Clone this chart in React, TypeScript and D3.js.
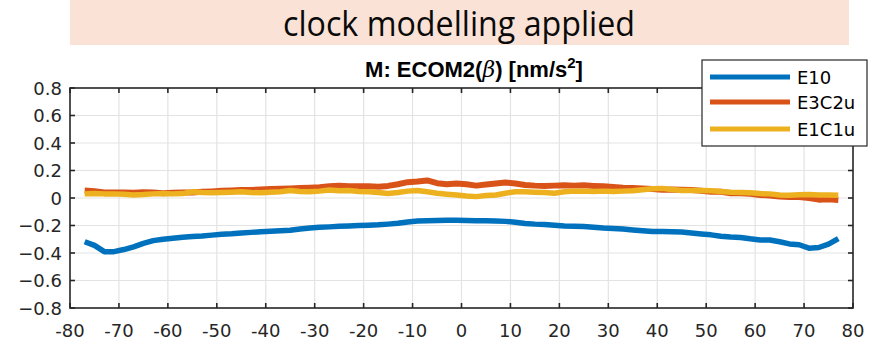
import React, { useEffect, useRef } from "react";
import * as d3 from "d3";

const lat = [-77,-75,-73,-71,-69,-67,-65,-63,-61,-59,-57,-55,-53,-51,-49,-47,-45,-43,-41,-39,-37,-35,-33,-31,-29,-27,-25,-23,-21,-19,-17,-15,-13,-11,-9,-7,-5,-3,-1,1,3,5,7,9,11,13,15,17,19,21,23,25,27,29,31,33,35,37,39,41,43,45,47,49,51,53,55,57,59,61,63,65,67,69,71,73,75,77];

const e10 = [-0.318,-0.345,-0.39,-0.39,-0.375,-0.355,-0.33,-0.31,-0.3,-0.292,-0.285,-0.28,-0.276,-0.27,-0.263,-0.26,-0.255,-0.25,-0.246,-0.242,-0.238,-0.234,-0.226,-0.218,-0.213,-0.21,-0.206,-0.203,-0.2,-0.198,-0.195,-0.19,-0.184,-0.174,-0.168,-0.165,-0.163,-0.162,-0.162,-0.163,-0.165,-0.166,-0.168,-0.17,-0.176,-0.185,-0.19,-0.193,-0.198,-0.203,-0.205,-0.208,-0.212,-0.218,-0.222,-0.226,-0.232,-0.238,-0.243,-0.243,-0.245,-0.248,-0.255,-0.262,-0.268,-0.278,-0.284,-0.287,-0.297,-0.305,-0.305,-0.318,-0.334,-0.34,-0.365,-0.36,-0.335,-0.295];

const e3c2u = [0.055,0.05,0.04,0.04,0.04,0.038,0.042,0.04,0.035,0.038,0.04,0.04,0.045,0.048,0.052,0.055,0.058,0.058,0.062,0.065,0.068,0.07,0.072,0.075,0.078,0.085,0.09,0.085,0.085,0.085,0.082,0.088,0.1,0.115,0.12,0.128,0.108,0.1,0.105,0.1,0.09,0.098,0.105,0.112,0.105,0.095,0.09,0.088,0.09,0.092,0.09,0.092,0.088,0.085,0.08,0.075,0.072,0.07,0.065,0.06,0.062,0.06,0.058,0.052,0.045,0.045,0.035,0.035,0.03,0.022,0.018,0.01,0.008,0.008,0.0,-0.012,-0.01,-0.015];

const e1c1u = [0.03,0.032,0.03,0.03,0.028,0.022,0.025,0.03,0.032,0.03,0.032,0.045,0.04,0.038,0.04,0.042,0.045,0.04,0.038,0.042,0.045,0.055,0.048,0.045,0.05,0.058,0.052,0.055,0.048,0.045,0.04,0.032,0.04,0.05,0.055,0.045,0.035,0.028,0.022,0.015,0.01,0.018,0.022,0.035,0.045,0.045,0.042,0.04,0.035,0.045,0.05,0.05,0.048,0.05,0.048,0.05,0.052,0.06,0.068,0.07,0.062,0.055,0.055,0.055,0.052,0.048,0.042,0.04,0.038,0.032,0.03,0.022,0.02,0.024,0.025,0.022,0.022,0.02];

const seriesNames = ["E10", "E3C2u", "E1C1u"];
const seriesColors = ["#0072BD", "#D95319", "#EDB120"];
const seriesValues = [e10, e3c2u, e1c1u];
const xTicks = [-80,-70,-60,-50,-40,-30,-20,-10,0,10,20,30,40,50,60,70,80];
const yTicks = [-0.8,-0.6,-0.4,-0.2,0,0.2,0.4,0.6,0.8];
const bannerText = "clock modelling applied";
const chartTitle = "M: ECOM2(";

export default function App() {
  const ref = useRef<SVGSVGElement>(null);

  useEffect(() => {
    const svg = d3.select(ref.current);
    svg.selectAll("*").remove();
    const W = 885, H = 344;
    const m = { l: 70, r: 853, t: 88, b: 308 };
    const x = d3.scaleLinear().domain([-80, 80]).range([m.l, m.r]);
    const y = d3.scaleLinear().domain([-0.8, 0.8]).range([m.b, m.t]);
    const axisColor = "#262626";
    const font = "'DejaVu Sans', sans-serif";

    svg.append("rect").attr("width", W).attr("height", H).attr("fill", "#fff");

    // banner
    svg.append("rect").attr("x", 70).attr("y", 0).attr("width", 779).attr("height", 45).attr("fill", "#FAE3D6");
    svg.append("text").attr("x", 283).attr("y", 35.5)
      .attr("font-family", "'Open Sans', sans-serif").attr("font-size", 35).attr("font-weight", 500)
      .attr("fill", "#0a0a0a")
      .attr("textLength", 352).attr("lengthAdjust", "spacingAndGlyphs")
      .text(bannerText);

    // grid
    const g = svg.append("g");
    xTicks.slice(1, -1).forEach((t) => {
      g.append("line").attr("x1", x(t)).attr("x2", x(t)).attr("y1", m.t).attr("y2", m.b)
        .attr("stroke", "#e3e3e3").attr("stroke-width", 1.2);
    });
    yTicks.slice(1, -1).forEach((t) => {
      g.append("line").attr("x1", m.l).attr("x2", m.r).attr("y1", y(t)).attr("y2", y(t))
        .attr("stroke", "#e3e3e3").attr("stroke-width", 1.2);
    });

    // lines
    const line = d3.line<[number, number]>().x((d) => x(d[0])).y((d) => y(d[1]));
    const widths = [5.5, 6, 5.5];
    seriesValues.forEach((vals, i) => {
      const pts = lat.map((l, j) => [l, vals[j]] as [number, number]);
      svg.append("path").attr("d", line(pts) as string).attr("fill", "none")
        .attr("stroke", seriesColors[i]).attr("stroke-width", widths[i])
        .attr("stroke-linejoin", "round");
    });

    // box
    svg.append("rect").attr("x", m.l).attr("y", m.t).attr("width", m.r - m.l).attr("height", m.b - m.t)
      .attr("fill", "none").attr("stroke", axisColor).attr("stroke-width", 1.6);

    // ticks
    const tl = 5;
    xTicks.forEach((t) => {
      svg.append("line").attr("x1", x(t)).attr("x2", x(t)).attr("y1", m.b).attr("y2", m.b - tl).attr("stroke", axisColor).attr("stroke-width", 1.6);
      svg.append("line").attr("x1", x(t)).attr("x2", x(t)).attr("y1", m.t).attr("y2", m.t + tl).attr("stroke", axisColor).attr("stroke-width", 1.6);
      svg.append("text").attr("x", x(t)).attr("y", 337).attr("text-anchor", "middle")
        .attr("font-family", font).attr("font-size", 18).attr("fill", axisColor).text(String(t));
    });
    yTicks.forEach((t) => {
      svg.append("line").attr("x1", m.l).attr("x2", m.l + tl).attr("y1", y(t)).attr("y2", y(t)).attr("stroke", axisColor).attr("stroke-width", 1.6);
      svg.append("line").attr("x1", m.r).attr("x2", m.r - tl).attr("y1", y(t)).attr("y2", y(t)).attr("stroke", axisColor).attr("stroke-width", 1.6);
      svg.append("text").attr("x", 62).attr("y", y(t) + 6.5).attr("text-anchor", "end")
        .attr("font-family", font).attr("font-size", 18).attr("fill", axisColor).text(d3.format("~g")(t));
    });

    // title
    const tt = svg.append("text").attr("x", 474).attr("y", 77).attr("text-anchor", "middle")
      .attr("font-family", "'Liberation Sans', Arial, sans-serif").attr("font-weight", "bold")
      .attr("font-size", 22).attr("fill", "#000");
    tt.append("tspan").text(chartTitle);
    tt.append("tspan").attr("font-family", "'DejaVu Serif', serif").attr("font-style", "italic").attr("font-weight", "normal").text("β");
    tt.append("tspan").text(") [nm/s");
    tt.append("tspan").attr("dy", -9).attr("font-size", 15).text("2");
    tt.append("tspan").attr("dy", 9).text("]");

    // legend
    svg.append("rect").attr("x", 702).attr("y", 60).attr("width", 165).attr("height", 86)
      .attr("fill", "#fff").attr("stroke", axisColor).attr("stroke-width", 1.2);
    const rows = [77, 102, 129];
    seriesNames.forEach((n, i) => {
      svg.append("line").attr("x1", 710).attr("x2", 790).attr("y1", rows[i]).attr("y2", rows[i])
        .attr("stroke", seriesColors[i]).attr("stroke-width", 5);
      svg.append("text").attr("x", 797).attr("y", rows[i] + 6.5).attr("font-family", font)
        .attr("font-size", 18).attr("fill", "#000").text(n);
    });
  }, []);

  return (
    <svg ref={ref} width={885} height={344} style={{ position: "absolute", left: 0, top: 0 }} />
  );
}
